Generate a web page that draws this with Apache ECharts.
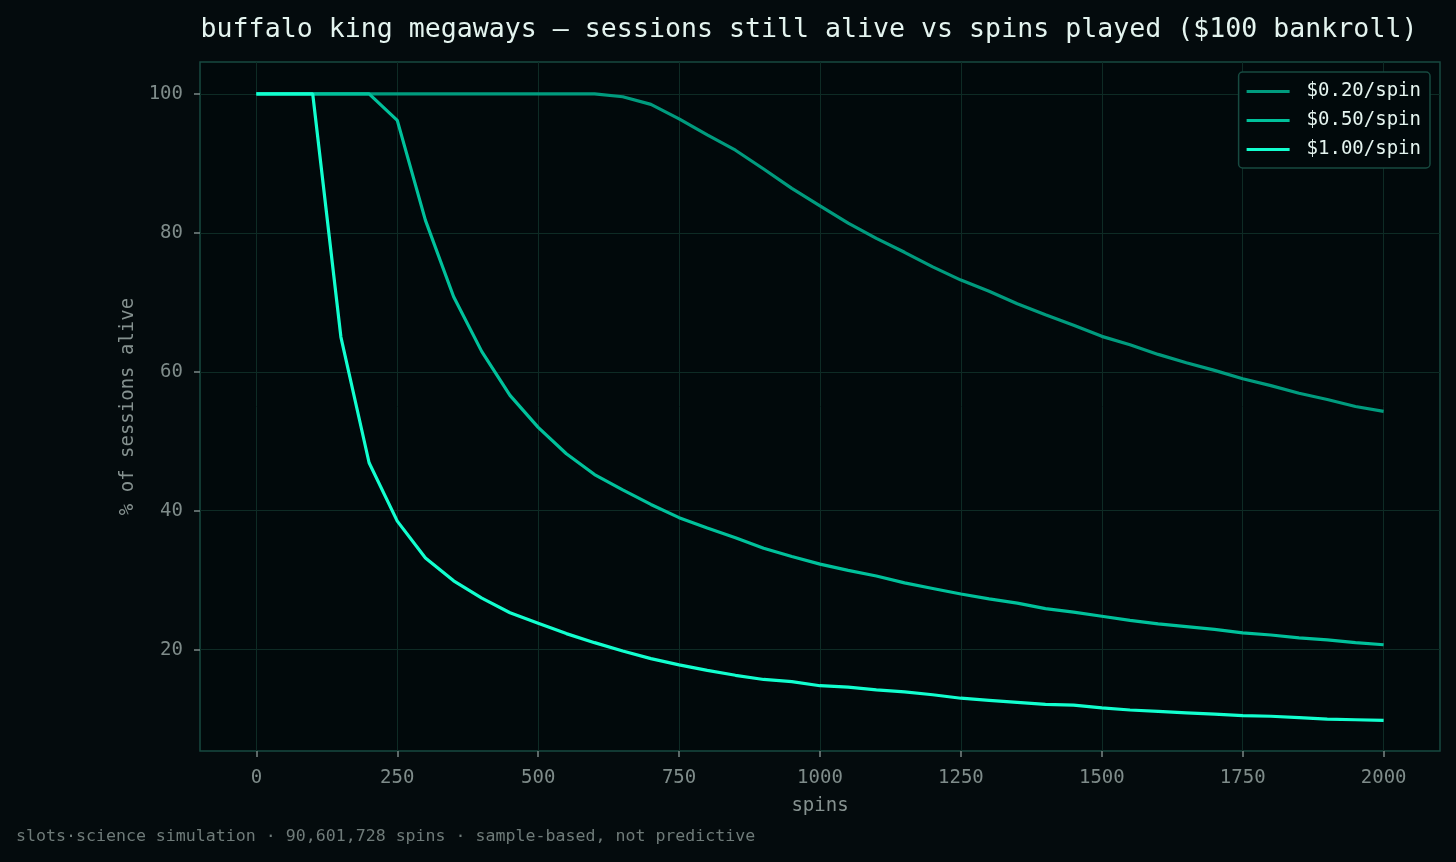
<!DOCTYPE html>
<html>
<head>
<meta charset="utf-8">
<script src="https://cdn.jsdelivr.net/npm/echarts@6/dist/echarts.min.js"></script>
<style>
  html, body { margin: 0; padding: 0; background: #040b0d; }
  #chart { width: 1456px; height: 862px; }
</style>
</head>
<body>
<div id="chart"></div>
<script>
// spins played, one sample every 50 spins
const spins = [0, 50, 100, 150, 200, 250, 300, 350, 400, 450, 500, 550, 600, 650, 700, 750, 800, 850, 900, 950,
  1000, 1050, 1100, 1150, 1200, 1250, 1300, 1350, 1400, 1450, 1500, 1550, 1600, 1650, 1700, 1750, 1800, 1850, 1900, 1950, 2000]

// % of sessions still alive
const alive020 = [100, 100, 100, 100, 100, 100, 100, 100, 100, 100, 100, 100, 100, 99.6, 98.5, 96.4, 94.1, 91.9, 89.2, 86.4,
  83.9, 81.4, 79.2, 77.2, 75.1, 73.2, 71.6, 69.8, 68.2, 66.7, 65.1, 63.9, 62.5, 61.3, 60.2, 59.0, 58.0, 56.9, 56.0, 55.0, 54.3]
const alive050 = [100, 100, 100, 100, 100, 96.2, 81.8, 70.8, 62.9, 56.6, 52.0, 48.2, 45.2, 43.0, 40.9, 39.0, 37.5, 36.1, 34.6, 33.4,
  32.3, 31.4, 30.6, 29.6, 28.8, 28.0, 27.3, 26.7, 25.9, 25.4, 24.8, 24.2, 23.7, 23.3, 22.9, 22.4, 22.1, 21.7, 21.4, 21.0, 20.7]
const alive100 = [100, 100, 100, 65.0, 46.9, 38.5, 33.2, 29.9, 27.4, 25.3, 23.8, 22.3, 21.0, 19.8, 18.7, 17.8, 17.0, 16.3, 15.7, 15.4,
  14.8, 14.6, 14.2, 13.9, 13.5, 13.0, 12.7, 12.4, 12.1, 12.0, 11.6, 11.3, 11.1, 10.9, 10.7, 10.5, 10.4, 10.2, 10.0, 9.9, 9.8]

const seriesNames = ['$0.20/spin', '$0.50/spin', '$1.00/spin']
const xTicks = [0, 250, 500, 750, 1000, 1250, 1500, 1750, 2000]
const yTicks = [20, 40, 60, 80, 100]

const FONT = "'DejaVu Sans Mono', monospace"
const colors = ['#009b7e', '#00c19b', '#12ffcf']

function pairs(vals) {
  return spins.map((s, i) => [s, vals[i]])
}

const chart = echarts.init(document.getElementById('chart'))

chart.setOption({
  backgroundColor: '#040b0d',
  animation: false,
  textStyle: { fontFamily: FONT },
  title: {
    text: 'buffalo king megaways — sessions still alive vs spins played ($100 bankroll)',
    left: 804,
    top: 12,
    textAlign: 'center',
    textStyle: { color: '#e4f4ef', fontSize: 26.6, fontWeight: 'normal', fontFamily: FONT }
  },
  grid: {
    left: 200,
    right: 16,
    top: 62,
    bottom: 111,
    show: true,
    backgroundColor: '#01090b',
    borderColor: '#174a40',
    borderWidth: 1.5
  },
  legend: {
    data: seriesNames,
    orient: 'vertical',
    right: 26,
    top: 72,
    padding: [10, 9, 9, 8],
    itemGap: 10,
    itemWidth: 43,
    itemHeight: 3,
    icon: 'rect',
    backgroundColor: '#01090b',
    borderColor: '#174a40',
    borderWidth: 1.5,
    borderRadius: 4,
    textStyle: { color: '#e4f4ef', fontSize: 19, fontFamily: FONT, padding: [0, 0, 0, 12] }
  },
  xAxis: {
    type: 'value',
    min: -100,
    max: 2100,
    name: 'spins',
    nameLocation: 'middle',
    nameGap: 46,
    nameTextStyle: { color: '#85918f', fontSize: 19, fontFamily: FONT },
    axisLine: { show: false, onZero: false },
    axisTick: { show: true, length: 6, customValues: xTicks, lineStyle: { color: '#7a8886', width: 1.5 } },
    axisLabel: { customValues: xTicks, color: '#7f8c8a', fontSize: 19, fontFamily: FONT, margin: 18, formatter: v => String(v) },
    splitLine: { show: true, lineStyle: { color: '#0e2b25', width: 1 } }
  },
  yAxis: {
    type: 'value',
    min: 5.4,
    max: 104.6,
    name: '% of sessions alive',
    nameLocation: 'middle',
    nameGap: 60,
    nameTextStyle: { color: '#85918f', fontSize: 19, fontFamily: FONT },
    axisLine: { show: false, onZero: false },
    axisTick: { show: true, length: 6, customValues: yTicks, lineStyle: { color: '#7a8886', width: 1.5 } },
    axisLabel: { customValues: yTicks, color: '#7f8c8a', fontSize: 19, fontFamily: FONT, margin: 17, formatter: v => String(v) },
    splitLine: { show: true, lineStyle: { color: '#0e2b25', width: 1 } }
  },
  series: [alive020, alive050, alive100].map((vals, i) => ({
    name: seriesNames[i],
    type: 'line',
    data: pairs(vals),
    showSymbol: false,
    symbol: 'none',
    color: colors[i],
    lineStyle: { width: 3.2, color: colors[i] }
  })),
  graphic: [{
    type: 'text',
    left: 16,
    top: 828,
    style: {
      text: 'slots·science simulation · 90,601,728 spins · sample-based, not predictive',
      fill: '#6f7b79',
      font: "16.6px 'DejaVu Sans Mono', monospace"
    }
  }]
})
</script>
</body>
</html>
